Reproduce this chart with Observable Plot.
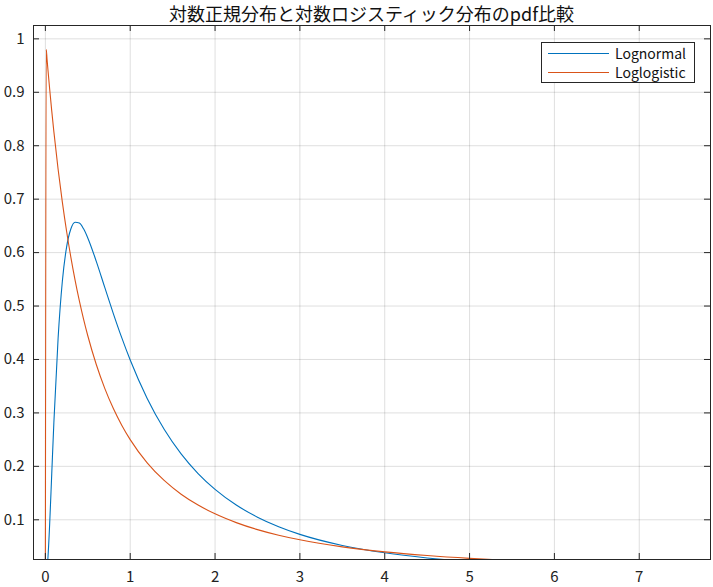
<!DOCTYPE html>
<html><head><meta charset="utf-8">
<script src="https://cdn.jsdelivr.net/npm/d3@7"></script>
<script src="https://cdn.jsdelivr.net/npm/@observablehq/plot@0.6"></script>
<style>
body{margin:0;background:#fff;font-family:"Noto Sans CJK JP","Noto Sans",sans-serif;}
#wrap{position:relative;width:713px;height:587px;overflow:hidden;}
#title{height:22px;line-height:27px;padding-left:33px;padding-right:3px;text-align:center;font-size:18px;color:#111;}
#legend{position:absolute;left:541px;top:42px;width:152px;height:39px;border:1px solid #262626;background:#fff;font-size:14px;color:#111;}
#legend .row{position:absolute;left:0;height:18px;}
#legend .sw{position:absolute;left:6px;top:8px;width:61px;height:1px;}
#legend .lb{position:absolute;left:73px;top:-2px;white-space:nowrap;line-height:20px;}
</style></head>
<body><div id="wrap"><div id="title">対数正規分布と対数ロジスティック分布のpdf比較</div><div id="chart"></div><div id="legend"></div></div>
<script>
const xs = [0,0.01,0.02,0.03,0.05,0.075,0.1,0.15,0.2,0.25,0.3,0.35,0.4,0.45,0.5,0.6,0.7,0.8,0.9,1,1.2,1.4,1.6,1.8,2,2.25,2.5,2.75,3,3.5,4,4.5,5,5.5,6];
const lognormal = [0,0.0010,0.0095,0.0285,0.0898,0.1859,0.2816,0.4398,0.5463,0.6104,0.6442,0.6569,0.6554,0.6445,0.6275,0.5836,0.5348,0.4864,0.4408,0.3989,0.3270,0.2693,0.2233,0.1865,0.1569,0.1276,0.1049,0.0870,0.0727,0.0520,0.0382,0.0286,0.0218,0.0170,0.0134];
const loglogistic = [0,0.9803,0.9612,0.9426,0.9070,0.8653,0.8264,0.7561,0.6944,0.6400,0.5917,0.5487,0.5102,0.4756,0.4444,0.3906,0.3460,0.3086,0.2770,0.2500,0.2066,0.1736,0.1479,0.1276,0.1111,0.0947,0.0816,0.0711,0.0625,0.0494,0.0400,0.0331,0.0278,0.0237,0.0204];
const seriesNames = ["Lognormal","Loglogistic"];
const seriesColors = ["#0072BD","#D95319"];
const xTicks = [0,1,2,3,4,5,6,7];
const yTicks = [0.1,0.2,0.3,0.4,0.5,0.6,0.7,0.8,0.9,1];
const xDomain = [-0.14, 7.84];
const yDomain = [0.0257, 1.025];

const rows = [];
[lognormal, loglogistic].forEach((ys, s) => xs.forEach((x, i) => rows.push({x, y: ys[i], s: seriesNames[s]})));

const W = 713, H = 565, mL = 33, mR = 3, mT = 3, mB = 28;
const pw = W - mL - mR, ph = H - mT - mB, tk = 6;
const fnt = '"Noto Sans CJK JP","Noto Sans",sans-serif';

const chart = Plot.plot({
  width: W, height: H,
  marginLeft: mL, marginRight: mR, marginTop: mT, marginBottom: mB,
  style: {fontFamily: fnt, fontSize: "15px", color: "#222", background: "#fff"},
  x: {domain: xDomain, label: null},
  y: {domain: yDomain, label: null},
  color: {domain: seriesNames, range: seriesColors},
  marks: [
    Plot.gridX(xTicks, {stroke: "#000", strokeOpacity: 0.13}),
    Plot.gridY(yTicks, {stroke: "#000", strokeOpacity: 0.13}),
    Plot.line(rows, {x: "x", y: "y", z: "s", stroke: "s", strokeWidth: 1.1, curve: "monotone-x", clip: true}),
    Plot.ruleX(xTicks, {x: d => d, insetTop: ph - tk, stroke: "#262626"}),
    Plot.ruleX(xTicks, {x: d => d, insetBottom: ph - tk, stroke: "#262626"}),
    Plot.ruleY(yTicks, {y: d => d, insetRight: pw - tk, stroke: "#262626"}),
    Plot.ruleY(yTicks, {y: d => d, insetLeft: pw - tk, stroke: "#262626"}),
    Plot.axisX(xTicks, {tickSize: 0, tickPadding: 12, tickFormat: d => String(d), fontSize: 15, label: null}),
    Plot.axisY(yTicks, {tickSize: 0, tickPadding: 9, tickFormat: d => String(d), fontSize: 15, label: null}),
    Plot.frame({stroke: "#262626"})
  ]
});
document.getElementById("chart").appendChild(chart);

const lg = document.getElementById("legend");
seriesNames.forEach((n, i) => {
  const r = document.createElement("div");
  r.className = "row";
  r.style.top = (2 + i * 19) + "px";
  r.style.width = "100%";
  r.innerHTML = `<div class="sw" style="background:${seriesColors[i]}"></div><div class="lb">${n}</div>`;
  lg.appendChild(r);
});
</script></body></html>
